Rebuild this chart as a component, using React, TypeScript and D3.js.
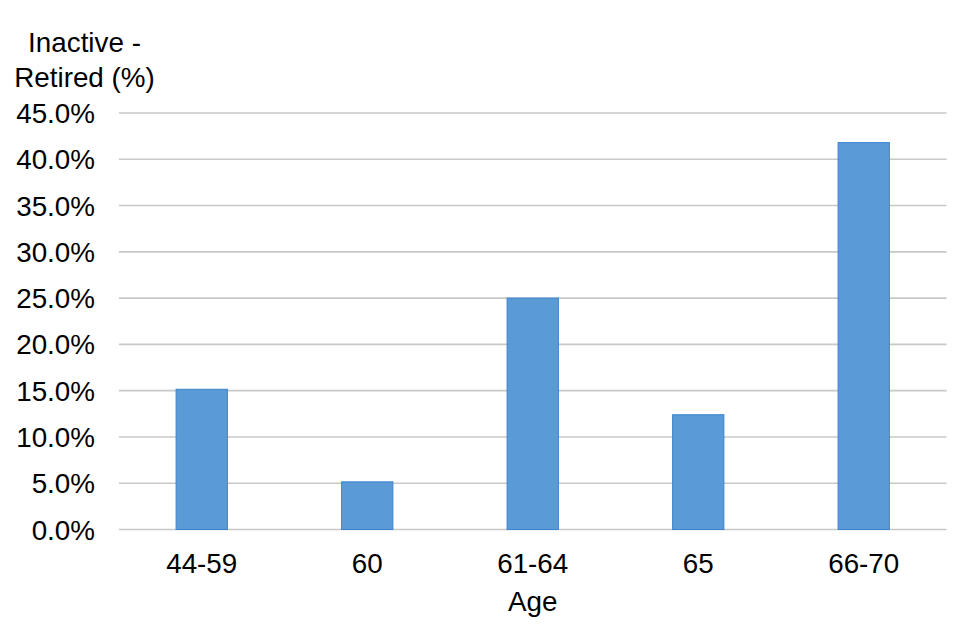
import React from "react";
import * as d3 from "d3";

const categories = ["44-59", "60", "61-64", "65", "66-70"];
const values = [15.15, 5.15, 25.0, 12.4, 41.8];
const yTicks = [0, 5, 10, 15, 20, 25, 30, 35, 40, 45];
const yTitleLines = ["Inactive -", "Retired (%)"];
const xTitle = "Age";

const W = 960;
const H = 640;
const left = 119;
const right = 946.5;
const top = 113;
const bottom = 529.5;
const FONT = "'Liberation Sans', Arial, sans-serif";
const FS = 27.8;

export default function App() {
  const x = d3
    .scaleBand<string>()
    .domain(categories)
    .range([left, right])
    .paddingInner(0.69)
    .paddingOuter(0.345);
  const y = d3.scaleLinear().domain([0, 45]).range([bottom, top]);

  return (
    <svg
      width={W}
      height={H}
      viewBox={`0 0 ${W} ${H}`}
      style={{ position: "absolute", left: 0, top: 0, background: "#fff" }}
    >
      <rect x={0} y={0} width={W} height={H} fill="#fff" />
      {yTicks.map((t) => (
        <line
          key={t}
          x1={left}
          x2={right}
          y1={y(t)}
          y2={y(t)}
          stroke="#c8c8c8"
          strokeWidth={1.6}
        />
      ))}
      {yTicks.map((t) => (
        <text
          key={"l" + t}
          x={95}
          y={y(t)}
          dy="0.36em"
          textAnchor="end"
          fontFamily={FONT}
          fontSize={FS}
          fill="#000"
        >
          {t.toFixed(1) + "%"}
        </text>
      ))}
      {categories.map((c, i) => (
        <rect
          key={c}
          x={x(c)!}
          y={y(values[i])}
          width={x.bandwidth()}
          height={y(0) - y(values[i])}
          fill="#5B9BD5"
          stroke="#3A84D0"
          strokeWidth={1}
        />
      ))}
      {categories.map((c) => (
        <text
          key={"x" + c}
          x={x(c)! + x.bandwidth() / 2}
          y={573}
          textAnchor="middle"
          fontFamily={FONT}
          fontSize={FS}
          fill="#000"
        >
          {c}
        </text>
      ))}
      <text
        x={(left + right) / 2}
        y={611}
        textAnchor="middle"
        fontFamily={FONT}
        fontSize={FS}
        fill="#000"
      >
        {xTitle}
      </text>
      {yTitleLines.map((s, i) => (
        <text
          key={s}
          x={84.5}
          y={52 + i * 34.7}
          textAnchor="middle"
          fontFamily={FONT}
          fontSize={FS}
          fill="#000"
        >
          {s}
        </text>
      ))}
    </svg>
  );
}
